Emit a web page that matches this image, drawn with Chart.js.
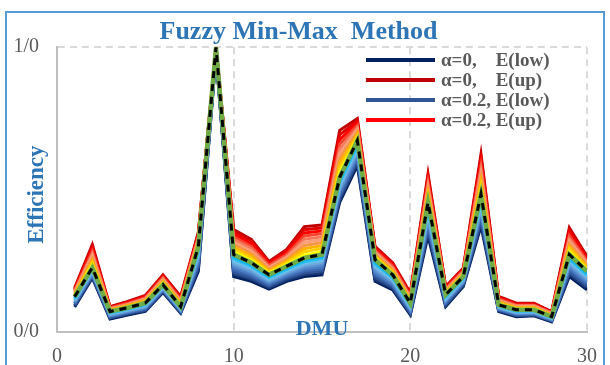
<!DOCTYPE html>
<html><head><meta charset="utf-8">
<script src="https://cdn.jsdelivr.net/npm/chart.js@4.4.1/dist/chart.umd.min.js"></script>
<style>
html,body{margin:0;padding:0;background:#fff;overflow:hidden;}
#wrap{position:relative;width:610px;height:365px;}
#frame{position:absolute;left:5px;top:11px;width:600px;height:420px;border:2px solid #5B9BD5;box-sizing:border-box;}
canvas{position:absolute;left:0;top:0;}
</style></head><body>
<div id="wrap"><div id="frame"></div><canvas id="c" width="610" height="365"></canvas></div>
<script>
const dmu = [1,2,3,4,5,6,7,8,9,10,11,12,13,14,15,16,17,18,19,20,21,22,23,24,25,26,27,28,29,30];
const yTickLabels = {0:"0/0", 1:"1/0"};
const xTicks = [0,10,20,30];

// Upper bounds E(up) for alpha = 0, 0.1, ..., 0.9
const upA0 = [.155,.307,.089,.107,.128,.201,.125,.350,1,.360,.325,.248,.290,.370,.376,.708,.749,.301,.243,.137,.555,.160,.225,.625,.125,.101,.101,.072,.366,.266];
const upA1 = [.152,.299,.087,.105,.125,.198,.121,.345,1,.351,.317,.243,.284,.359,.366,.692,.741,.296,.239,.133,.545,.157,.222,.611,.122,.099,.099,.070,.357,.261];
const upA2 = [.149,.291,.086,.103,.123,.194,.118,.340,1,.342,.309,.239,.278,.348,.355,.675,.734,.292,.235,.130,.535,.154,.219,.597,.119,.096,.096,.068,.347,.255];
const upA3 = [.146,.283,.084,.100,.120,.191,.114,.335,1,.334,.300,.234,.272,.337,.345,.659,.726,.287,.230,.126,.525,.151,.216,.583,.116,.094,.094,.067,.338,.250];
const upA4 = [.142,.275,.082,.098,.118,.187,.111,.330,1,.325,.292,.229,.266,.326,.334,.642,.718,.282,.226,.123,.515,.148,.213,.569,.113,.092,.092,.065,.328,.245];
const upA5 = [.140,.267,.081,.096,.115,.184,.107,.325,1,.316,.284,.225,.261,.315,.324,.626,.711,.278,.222,.119,.505,.146,.210,.555,.110,.090,.090,.063,.319,.240];
const upA6 = [.136,.258,.079,.094,.112,.180,.103,.320,1,.307,.276,.220,.255,.304,.314,.609,.703,.273,.218,.115,.495,.143,.207,.541,.107,.087,.087,.061,.310,.234];
const upA7 = [.133,.250,.077,.092,.110,.177,.100,.315,1,.298,.268,.215,.249,.293,.303,.593,.695,.268,.214,.112,.485,.140,.204,.527,.104,.085,.085,.059,.300,.229];
const upA8 = [.130,.242,.075,.089,.107,.173,.096,.310,1,.290,.259,.211,.243,.282,.293,.576,.687,.263,.209,.108,.475,.137,.201,.512,.101,.083,.083,.058,.291,.224];
const upA9 = [.127,.234,.074,.087,.105,.170,.093,.305,1,.281,.251,.206,.237,.271,.282,.560,.680,.259,.205,.105,.465,.134,.198,.498,.098,.080,.080,.056,.281,.218];
// alpha = 1 (crisp)
const mid  = [.124,.226,.072,.085,.102,.166,.089,.300,1,.272,.243,.201,.231,.260,.272,.543,.672,.254,.201,.101,.455,.131,.195,.484,.095,.078,.078,.054,.272,.213];
// Lower bounds E(low) for alpha = 0.9 ... 0
const lowA9 = [.120,.222,.069,.083,.099,.163,.087,.291,.997,.264,.237,.196,.226,.254,.265,.534,.663,.246,.196,.097,.443,.127,.192,.473,.093,.076,.076,.052,.264,.207];
const lowA8 = [.117,.219,.067,.080,.096,.161,.084,.283,.994,.257,.230,.191,.220,.247,.258,.525,.654,.239,.190,.093,.431,.123,.188,.462,.090,.073,.074,.050,.257,.200];
const lowA7 = [.113,.215,.064,.078,.093,.158,.082,.274,.991,.249,.224,.186,.215,.241,.251,.517,.646,.231,.185,.089,.420,.118,.185,.450,.088,.071,.072,.049,.249,.194];
const lowA6 = [.110,.212,.062,.075,.090,.155,.080,.265,.988,.241,.217,.181,.210,.234,.244,.508,.637,.224,.180,.085,.408,.114,.181,.439,.086,.068,.070,.047,.241,.187];
const lowA5 = [.106,.208,.059,.073,.087,.153,.078,.257,.985,.234,.211,.176,.205,.228,.237,.499,.628,.216,.175,.081,.396,.110,.178,.428,.084,.066,.068,.045,.234,.181];
const lowA4 = [.102,.204,.056,.070,.084,.150,.075,.248,.982,.226,.204,.171,.199,.221,.229,.490,.619,.208,.169,.076,.384,.106,.174,.417,.081,.064,.065,.043,.226,.174];
const lowA3 = [.099,.201,.054,.068,.081,.147,.073,.239,.979,.218,.198,.166,.194,.215,.222,.481,.610,.201,.164,.072,.372,.102,.171,.406,.079,.061,.063,.041,.218,.168];
const lowA2 = [.095,.197,.051,.065,.078,.144,.071,.230,.976,.210,.191,.161,.189,.208,.215,.473,.602,.193,.159,.068,.361,.097,.167,.394,.077,.059,.061,.040,.210,.161];
const lowA1 = [.092,.194,.049,.063,.075,.142,.068,.222,.973,.203,.185,.156,.183,.202,.208,.464,.593,.186,.153,.064,.349,.093,.164,.383,.074,.056,.059,.038,.203,.155];
const lowA0 = [.088,.190,.046,.060,.072,.139,.066,.213,.970,.195,.178,.151,.178,.195,.201,.455,.584,.178,.148,.060,.337,.089,.160,.372,.072,.054,.057,.036,.195,.148];

const alphas = ["0","0.1","0.2","0.3","0.4","0.5","0.6","0.7","0.8","0.9"];
const upSeries = [upA0,upA1,upA2,upA3,upA4,upA5,upA6,upA7,upA8,upA9];
const lowSeries = [lowA0,lowA1,lowA2,lowA3,lowA4,lowA5,lowA6,lowA7,lowA8,lowA9];
const upColors = ["#C00000","#E00000","#FF0000","#F5452C","#F7775C","#F8A07A","#F79646","#FFB000","#FFD000","#FFFF00"];
const lowColors = ["#002060","#1D3B78","#2F5597","#3B66B0","#4A7DC4","#5B93D2","#6EA8DC","#6CC0EC","#29BDF2","#00B0F0"];

function lbl(a){ return a === "0" ? "\u03B1=0,    " : "\u03B1=" + a + ", "; }
function toPts(arr){ return arr.map((v,i)=>({x:dmu[i], y:v})); }

const datasets = [];
const legendLevels = [0,2];
const otherLevels = [1,3,4,5,6,7,8,9];
function addLevel(k){
  datasets.push({label: lbl(alphas[k]) + "E(low)", data: toPts(lowSeries[k]), borderColor: lowColors[k], backgroundColor: lowColors[k], borderWidth: 3, pointRadius: 0, tension: 0, order: 12 - k});
  datasets.push({label: lbl(alphas[k]) + "E(up)", data: toPts(upSeries[k]), borderColor: upColors[k], backgroundColor: upColors[k], borderWidth: 3, pointRadius: 0, tension: 0, order: 12 - k});
}
legendLevels.forEach(addLevel);
otherLevels.forEach(addLevel);
datasets.push({label: "\u03B1=1", data: toPts(mid), borderColor: "#70AD47", borderWidth: 4.5, pointRadius: 0, tension: 0, order: 1});
datasets.push({label: "\u03B1=1 ", data: toPts(mid), borderColor: "#000000", borderWidth: 3, borderDash: [7,6], pointRadius: 0, tension: 0, order: 0});

const legendPlugin = {
  id: 'customLegend',
  afterDraw(chart){
    const ctx = chart.ctx;
    ctx.save();
    const ys = [60, 80, 100, 120];
    for (let i = 0; i < 4; i++){
      const ds = chart.data.datasets[i];
      ctx.strokeStyle = ds.borderColor;
      ctx.lineWidth = 4;
      ctx.beginPath(); ctx.moveTo(366, ys[i]); ctx.lineTo(435, ys[i]); ctx.stroke();
      ctx.fillStyle = "#595959";
      ctx.font = "bold 19px 'Liberation Serif'";
      ctx.textBaseline = "middle";
      ctx.textAlign = "left";
      ctx.fillText(ds.label, 441, ys[i] + 1);
    }
    const xs = chart.scales.x, ysc = chart.scales.y;
    ctx.fillStyle = "#2E75B6";
    ctx.font = "bold 22px 'Liberation Serif'";
    ctx.textAlign = "center";
    ctx.textBaseline = "alphabetic";
    ctx.fillText("DMU", (xs.left + xs.right)/2, ysc.bottom + 3);
    ctx.translate(43, (ysc.top + ysc.bottom)/2 + 5);
    ctx.rotate(-Math.PI/2);
    ctx.font = "bold 23px 'Liberation Serif'";
    ctx.fillText("Efficiency", 0, 0);
    ctx.restore();
  }
};

new Chart(document.getElementById('c'), {
  type: 'line',
  data: { datasets },
  options: {
    responsive: false,
    animation: false,
    layout: { padding: { top: 10, left: 10, right: 23, bottom: 0 } },
    plugins: {
      legend: { display: false },
      tooltip: { enabled: false },
      title: { display: true, text: "Fuzzy Min-Max  Method", color: "#2E75B6",
               font: { family: "'Liberation Serif'", size: 26, weight: 'bold' },
               padding: { top: 7, bottom: -1 } }
    },
    scales: {
      x: {
        type: 'linear', min: 0, max: 30,
        afterBuildTicks(s){ s.ticks = xTicks.map(v=>({value:v})); },
        afterFit(s){ s.height = 33; },
        ticks: { color: "#595959", font: { family: "'Liberation Serif'", size: 20 }, padding: 13 },
        grid: { drawTicks: false, lineWidth: 2, color: (c)=> c.tick && c.tick.value === 0 ? 'rgba(0,0,0,0)' : '#D9D9D9' },
        border: { display: true, color: '#BFBFBF', width: 2, dash: [7,5] }
      },
      y: {
        min: 0, max: 1,
        afterBuildTicks(s){ s.ticks = [{value:0},{value:1}]; },
        afterFit(s){ s.width = 47; },
        ticks: { color: "#595959", font: { family: "'Liberation Serif'", size: 20 }, padding: 18,
                 callback: (v)=> yTickLabels[v] },
        grid: { drawTicks: false, lineWidth: 2, color: (c)=> c.tick && c.tick.value === 1 ? '#D9D9D9' : 'rgba(0,0,0,0)' },
        border: { display: true, color: '#BFBFBF', width: 2, dash: [7,5] }
      }
    }
  },
  plugins: [legendPlugin]
});
</script>
</body></html>
